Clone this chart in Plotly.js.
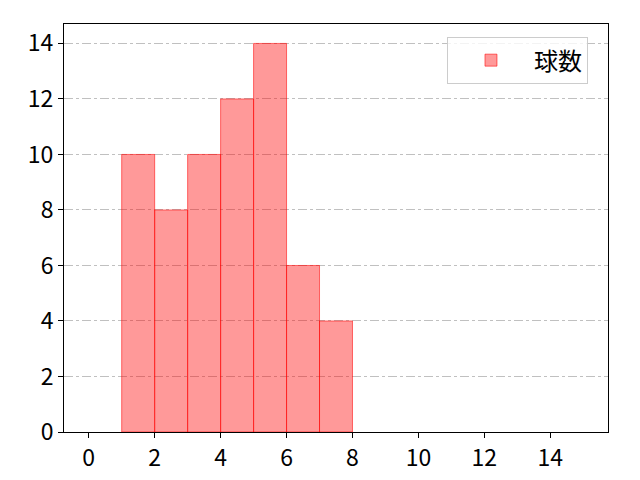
<!DOCTYPE html>
<html>
<head>
<meta charset="utf-8">
<script src="https://cdn.plot.ly/plotly-3.0.1.min.js"></script>
<style>
    html, body { margin: 0; padding: 0; background: #ffffff; }
    #chart { width: 640px; height: 480px; }
</style>
</head>
<body>
<div id="chart"></div>
<script>
// bin left edges and pitch counts
const binStarts = [1, 2, 3, 4, 5, 6, 7];
const binCounts = [10, 8, 10, 12, 14, 6, 4];
const seriesName = '球数';
const xTicks = [0, 2, 4, 6, 8, 10, 12, 14];
const yTicks = [0, 2, 4, 6, 8, 10, 12, 14];

const fontFamily = '"Noto Sans CJK JP", "DejaVu Sans", sans-serif';

const bars = {
    type: 'bar',
    x: binStarts,
    y: binCounts,
    width: binStarts.map(() => 1),
    offset: 0,
    name: seriesName,
    marker: {
        color: 'rgba(255, 0, 0, 0.4)',
        line: { color: 'rgba(255, 0, 0, 0.55)', width: 1 },
    },
    showlegend: true,
    hoverinfo: 'x+y',
};

const axisCommon = {
    showline: true,
    linecolor: '#000000',
    linewidth: 1,
    mirror: true,
    ticks: 'outside',
    ticklen: 5,
    tickwidth: 1,
    tickcolor: '#000000',
    tickfont: { family: fontFamily, size: 23, color: '#000000' },
    zeroline: false,
};

const layout = {
    width: 640,
    height: 480,
    margin: { l: 64, r: 32, t: 24, b: 48, pad: 0 },
    paper_bgcolor: '#ffffff',
    plot_bgcolor: '#ffffff',
    font: { family: fontFamily, color: '#000000' },
    bargap: 0,
    xaxis: {
        ...axisCommon,
        range: [-0.75, 15.75],
        tickvals: xTicks,
        showgrid: false,
    },
    yaxis: {
        ...axisCommon,
        range: [0, 14.7],
        tickvals: yTicks,
        showgrid: true,
        gridcolor: '#b0b0b0',
        gridwidth: 0.8,
        griddash: 'dashdot',
    },
    showlegend: true,
    legend: {
        x: 0.704,
        y: 0.968,
        xanchor: 'left',
        yanchor: 'top',
        bgcolor: 'rgba(255,255,255,0.8)',
        bordercolor: '#cccccc',
        borderwidth: 1,
        font: { family: fontFamily, size: 24, color: '#000000' },
        itemwidth: 76,
    },
};

Plotly.newPlot('chart', [bars], layout, { displayModeBar: false, staticPlot: true });
</script>
</body>
</html>
